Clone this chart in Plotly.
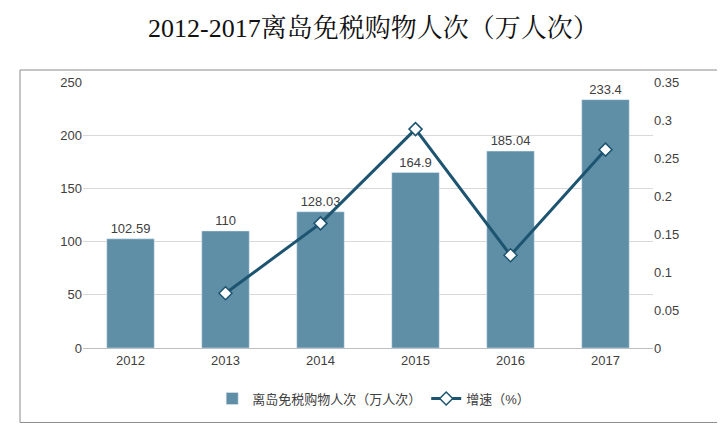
import plotly.graph_objects as go

years = ["2012", "2013", "2014", "2015", "2016", "2017"]
visitors = [102.59, 110, 128.03, 164.9, 185.04, 233.4]
visitor_labels = ["102.59", "110", "128.03", "164.9", "185.04", "233.4"]
growth_years = ["2013", "2014", "2015", "2016", "2017"]
growth = [0.072, 0.164, 0.288, 0.122, 0.261]

fig = go.Figure()
fig.add_trace(go.Bar(x=years, y=visitors, text=visitor_labels, textposition="outside",
                     marker_color="#5e8fa6", width=0.5, name="离岛免税购物人次（万人次）",
                     textfont=dict(size=13, color="#404040"), cliponaxis=False))
fig.add_trace(go.Scatter(x=growth_years, y=growth, yaxis="y2", mode="lines+markers",
                         line=dict(color="#1d5470", width=3),
                         marker=dict(symbol="diamond", size=10, color="white",
                                     line=dict(color="#1d5470", width=1.5)),
                         name="增速（%）"))
fig.update_layout(
    width=725, height=424, margin=dict(l=75, r=80, t=74, b=84),
    paper_bgcolor="white", plot_bgcolor="white",
    font=dict(family="Liberation Sans, Noto Sans CJK SC", size=13, color="#404040"),
    xaxis=dict(showline=True, linecolor="#bfbfbf", ticks=""),
    yaxis=dict(range=[0, 250], dtick=50, gridcolor="#d9d9d9", zeroline=False),
    yaxis2=dict(range=[0, 0.35], dtick=0.05, overlaying="y", side="right",
                showgrid=False, zeroline=False, tickformat="~g"),
    showlegend=True,
    legend=dict(orientation="h", x=0.51, xanchor="center", y=-0.19, yanchor="middle",
                font=dict(size=13)),
    bargap=0.5,
)
fig.add_shape(type="rect", xref="paper", yref="paper", x0=-0.1105, x1=1.1175,
              y0=-0.28, y1=1.045, line=dict(color="#8c8c8c", width=1))
fig.add_annotation(text="2012-2017离岛免税购物人次（万人次）", xref="paper", yref="paper",
                   x=0.51, y=1.2, showarrow=False, yanchor="middle",
                   font=dict(family="Liberation Serif, Noto Serif CJK SC, Noto Sans CJK SC", size=26, color="#111"))
fig.write_html("out.html")
